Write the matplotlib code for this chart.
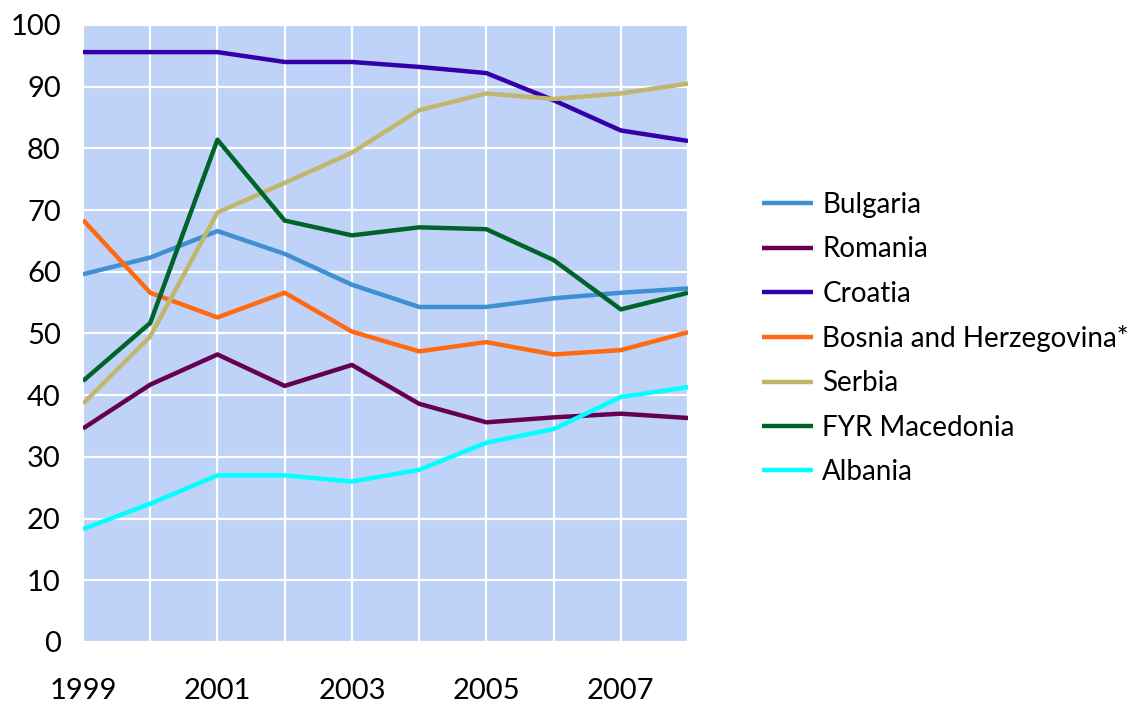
import matplotlib
matplotlib.use("Agg")
import matplotlib.pyplot as plt

plt.rcParams['font.family'] = ['Lato', 'DejaVu Sans']

# data
years = [1999, 2000, 2001, 2002, 2003, 2004, 2005, 2006, 2007, 2008]
bulgaria = [59.6, 62.3, 66.6, 62.9, 57.9, 54.3, 54.3, 55.7, 56.6, 57.3]
romania = [34.6, 41.7, 46.6, 41.5, 44.9, 38.6, 35.6, 36.4, 37.0, 36.3]
croatia = [95.6, 95.6, 95.6, 94.0, 94.0, 93.2, 92.2, 87.8, 82.9, 81.2]
bosnia = [68.4, 56.6, 52.6, 56.6, 50.3, 47.1, 48.6, 46.6, 47.3, 50.2]
serbia = [38.6, 49.5, 69.6, 74.4, 79.3, 86.2, 88.9, 88.0, 88.9, 90.5]
macedonia = [42.3, 51.7, 81.4, 68.3, 65.9, 67.2, 66.9, 61.9, 53.9, 56.6]
albania = [18.3, 22.4, 27.0, 27.0, 26.0, 27.9, 32.3, 34.5, 39.7, 41.3]

series = [
    ('Bulgaria', bulgaria, '#3F8FD2'),
    ('Romania', romania, '#660050'),
    ('Croatia', croatia, '#3300AA'),
    ('Bosnia and Herzegovina*', bosnia, '#FF6A10'),
    ('Serbia', serbia, '#C2B66C'),
    ('FYR Macedonia', macedonia, '#006428'),
    ('Albania', albania, '#00FFFF'),
]

fig = plt.figure(figsize=(11.32, 7.05), dpi=100)
ax = fig.add_axes([0.0733, 0.0894, 0.5345, 0.8752])
ax.set_facecolor('#BFD2F7')

for name, vals, col in series:
    ax.plot(years, vals, color=col, lw=3.2, label=name, solid_capstyle='butt')

ax.set_xlim(1999, 2008)
ax.set_ylim(0, 100)
ax.set_xticks(years)
ax.set_xticklabels([str(y) if y % 2 == 1 else '' for y in years])
ax.set_yticks(range(0, 101, 10))
ax.grid(True, color='white', lw=1.6)
ax.set_axisbelow(True)
for s in ax.spines.values():
    s.set_visible(False)
ax.tick_params(axis='both', length=0, labelsize=21)
ax.tick_params(axis='y', pad=16)
ax.tick_params(axis='x', pad=26)

leg = ax.legend(loc='center left', bbox_to_anchor=(1.104, 0.492), frameon=False,
                fontsize=20, handlelength=1.84, handletextpad=0.33,
                labelspacing=0.66, borderaxespad=0)

fig.savefig('out.png', dpi=100)
